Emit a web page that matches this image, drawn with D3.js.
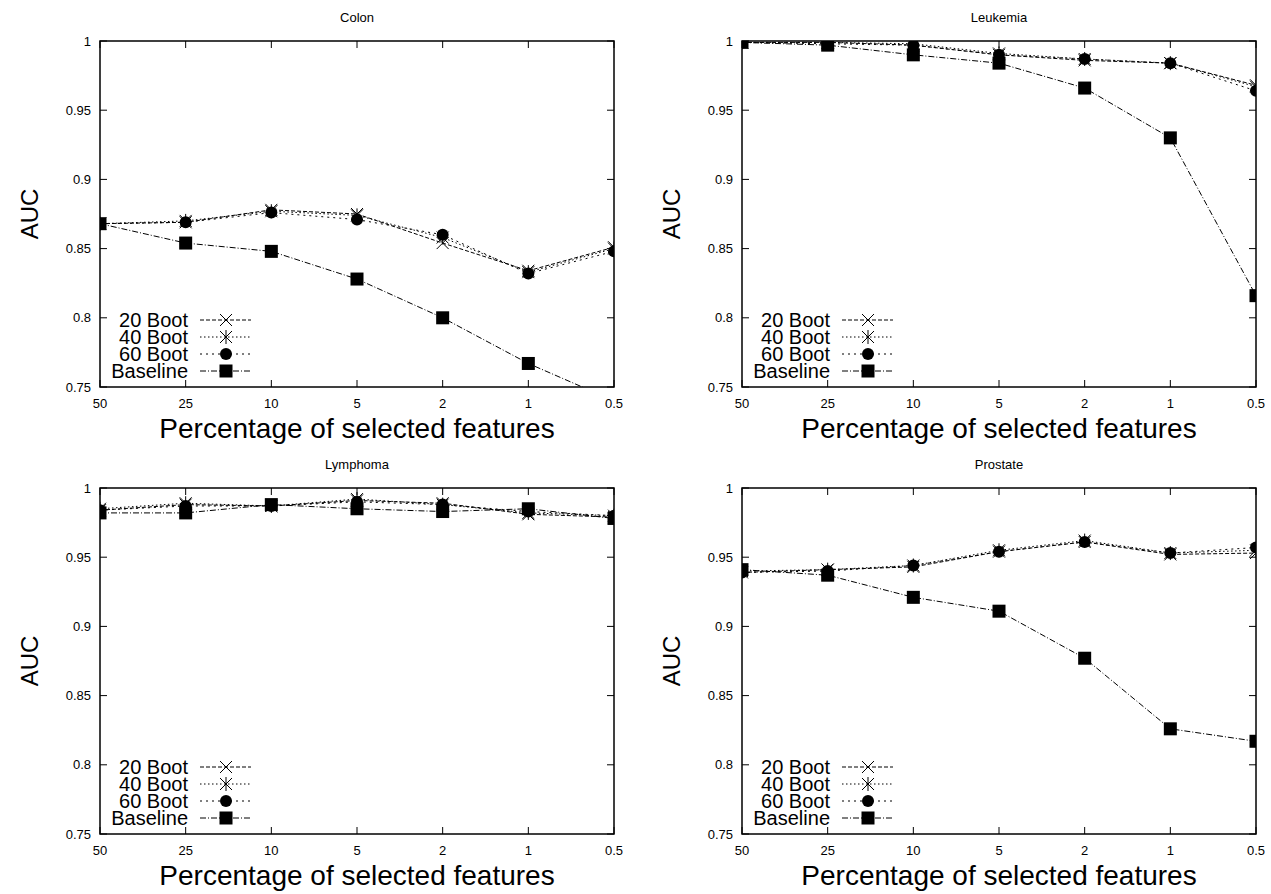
<!DOCTYPE html>
<html>
<head>
<meta charset="utf-8">
<script src="https://cdn.jsdelivr.net/npm/d3@7"></script>
<style>
  body { margin: 0; background: #fff; }
  svg { font-family: "Liberation Sans", Arial, sans-serif; }
</style>
</head>
<body>
<div id="chart"></div>
<script>
// x categories (percentage of selected features) and y ticks
var xLabels = ["50", "25", "10", "5", "2", "1", "0.5"];
var yTicks = [0.75, 0.8, 0.85, 0.9, 0.95, 1];
var seriesNames = ["20 Boot", "40 Boot", "60 Boot", "Baseline"];

// Colon
var colon20 = [0.868, 0.869, 0.878, 0.875, 0.854, 0.834, 0.851];
var colon40 = [0.868, 0.870, 0.877, 0.874, 0.858, 0.833, 0.850];
var colon60 = [0.868, 0.869, 0.876, 0.871, 0.860, 0.832, 0.848];
var colonBase = [0.868, 0.854, 0.848, 0.828, 0.800, 0.767, 0.740];

// Leukemia
var leuk20 = [0.999, 0.999, 0.997, 0.990, 0.986, 0.984, 0.968];
var leuk40 = [0.999, 0.999, 0.998, 0.991, 0.987, 0.984, 0.967];
var leuk60 = [0.999, 0.998, 0.997, 0.990, 0.987, 0.984, 0.964];
var leukBase = [0.999, 0.997, 0.990, 0.984, 0.966, 0.930, 0.816];

// Lymphoma
var lymph20 = [0.984, 0.988, 0.987, 0.991, 0.989, 0.981, 0.979];
var lymph40 = [0.985, 0.989, 0.987, 0.992, 0.988, 0.982, 0.980];
var lymph60 = [0.984, 0.987, 0.987, 0.990, 0.988, 0.983, 0.980];
var lymphBase = [0.982, 0.982, 0.988, 0.985, 0.983, 0.985, 0.978];

// Prostate
var prost20 = [0.939, 0.941, 0.943, 0.954, 0.961, 0.952, 0.953];
var prost40 = [0.940, 0.941, 0.944, 0.955, 0.962, 0.953, 0.955];
var prost60 = [0.939, 0.940, 0.944, 0.954, 0.961, 0.953, 0.957];
var prostBase = [0.941, 0.937, 0.921, 0.911, 0.877, 0.826, 0.817];

var panels = [
  {title: "Colon", left: 100, top: 41, series: [colon20, colon40, colon60, colonBase]},
  {title: "Leukemia", left: 742, top: 41, series: [leuk20, leuk40, leuk60, leukBase]},
  {title: "Lymphoma", left: 100, top: 488, series: [lymph20, lymph40, lymph60, lymphBase]},
  {title: "Prostate", left: 742, top: 488, series: [prost20, prost40, prost60, prostBase]}
];

var width = 514, height = 346;
var dashes = ["4,2", "1.5,2.5", "2,4", "6,2,1,2"];
var markers = ["cross", "star", "circle", "square"];

var svg = d3.select("#chart")
  .append("svg")
    .attr("width", 1271)
    .attr("height", 894);

function drawMarker(g, type, x, y) {
  if (type == "cross") {
    g.append("path")
      .attr("d", "M" + (x - 6) + "," + (y - 6) + "L" + (x + 6) + "," + (y + 6) +
                 "M" + (x - 6) + "," + (y + 6) + "L" + (x + 6) + "," + (y - 6))
      .attr("stroke", "#000").attr("stroke-width", 1);
  } else if (type == "star") {
    g.append("path")
      .attr("d", "M" + (x - 6) + "," + (y - 6) + "L" + (x + 6) + "," + (y + 6) +
                 "M" + (x - 6) + "," + (y + 6) + "L" + (x + 6) + "," + (y - 6) +
                 "M" + x + "," + (y - 7) + "L" + x + "," + (y + 7))
      .attr("stroke", "#000").attr("stroke-width", 1);
  } else if (type == "circle") {
    g.append("circle").attr("cx", x).attr("cy", y).attr("r", 6).attr("fill", "#000");
  } else {
    g.append("rect").attr("x", x - 6.5).attr("y", y - 6.5)
      .attr("width", 13).attr("height", 13).attr("fill", "#000");
  }
}

panels.forEach(function(p, pi) {
  var g = svg.append("g")
    .attr("transform", "translate(" + p.left + "," + p.top + ")");

  var x = d3.scalePoint().domain(xLabels).range([0, width]);
  var y = d3.scaleLinear().domain([0.75, 1]).range([height, 0]);

  // clip so points below 0.75 are cut off at the border
  g.append("clipPath").attr("id", "clip" + pi)
    .append("rect").attr("width", width).attr("height", height);

  // ticks (inward, mirrored on the other side)
  var ticks = g.append("g").attr("stroke", "#000").attr("stroke-width", 1);
  yTicks.forEach(function(t) {
    ticks.append("line").attr("x1", 0).attr("x2", 7).attr("y1", y(t)).attr("y2", y(t));
    ticks.append("line").attr("x1", width - 7).attr("x2", width).attr("y1", y(t)).attr("y2", y(t));
  });
  xLabels.forEach(function(t) {
    ticks.append("line").attr("x1", x(t)).attr("x2", x(t)).attr("y1", height).attr("y2", height - 7);
    ticks.append("line").attr("x1", x(t)).attr("x2", x(t)).attr("y1", 0).attr("y2", 7);
  });

  g.selectAll(".ylab")
    .data(yTicks)
    .enter()
    .append("text")
      .attr("x", -9)
      .attr("y", function(d) { return y(d); })
      .attr("dy", "0.35em")
      .attr("text-anchor", "end")
      .style("font-size", "13px")
      .text(function(d) { return d3.format("")(d); });

  g.selectAll(".xlab")
    .data(xLabels)
    .enter()
    .append("text")
      .attr("x", function(d) { return x(d); })
      .attr("y", height + 21)
      .attr("text-anchor", "middle")
      .style("font-size", "13px")
      .text(function(d) { return d; });

  // series
  var plot = g.append("g").attr("clip-path", "url(#clip" + pi + ")");
  p.series.forEach(function(vals, si) {
    var pts = vals.map(function(v, i) { return [x(xLabels[i]), y(v)]; });
    plot.append("path")
      .attr("d", d3.line()(pts))
      .attr("fill", "none")
      .attr("stroke", "#000")
      .attr("stroke-width", 1)
      .attr("stroke-dasharray", dashes[si]);
    pts.forEach(function(pt) { drawMarker(plot, markers[si], pt[0], pt[1]); });
  });

  // legend, bottom-left
  seriesNames.forEach(function(name, si) {
    var ly = height - 67 + si * 17;
    g.append("text")
      .attr("x", 88)
      .attr("y", ly)
      .attr("dy", "0.35em")
      .attr("text-anchor", "end")
      .style("font-size", "20px")
      .text(name);
    g.append("line")
      .attr("x1", 100).attr("x2", 151).attr("y1", ly).attr("y2", ly)
      .attr("stroke", "#000").attr("stroke-width", 1)
      .attr("stroke-dasharray", dashes[si]);
    drawMarker(g, markers[si], 126, ly);
  });

  // border
  g.append("rect")
    .attr("width", width).attr("height", height)
    .attr("fill", "none").attr("stroke", "#000").attr("stroke-width", 1.5);

  g.append("text")
    .attr("x", width / 2).attr("y", -19)
    .attr("text-anchor", "middle")
    .style("font-size", "13px")
    .text(p.title);

  g.append("text")
    .attr("x", width / 2).attr("y", height + 51)
    .attr("text-anchor", "middle")
    .style("font-size", "28px")
    .text("Percentage of selected features");

  g.append("text")
    .attr("transform", "translate(-70," + (height / 2) + ") rotate(-90)")
    .attr("text-anchor", "middle")
    .attr("dy", "0.35em")
    .style("font-size", "24px")
    .text("AUC");
});
</script>
</body>
</html>
